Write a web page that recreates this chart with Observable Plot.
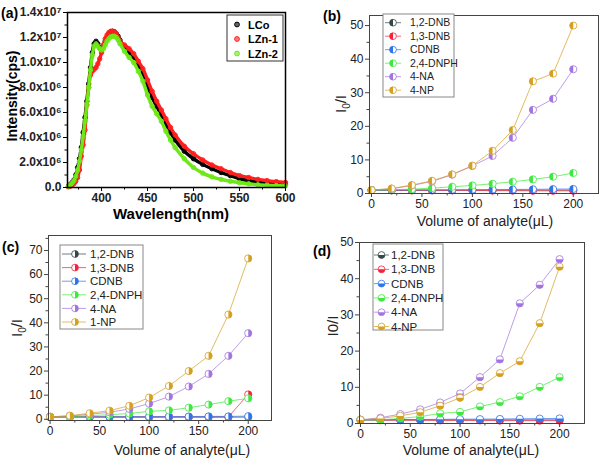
<!DOCTYPE html>
<html><head><meta charset="utf-8">
<script src="https://cdn.jsdelivr.net/npm/d3@7"></script>
<script src="https://cdn.jsdelivr.net/npm/@observablehq/plot@0.6"></script>
<style>
body{margin:0;background:#fff;}
#root{position:relative;width:600px;height:462px;overflow:hidden;font-family:"Liberation Sans",Arial,sans-serif;background:#fff;}
#root svg{position:absolute;overflow:visible;}
</style></head><body><div id="root"></div>
<script>
// ---------- Panel (a): emission spectra (intensity in units of 10^6 cps) ----------
const wavelength = [364,366,368,370,372,374,376,378,380,382,384,386,388,390,392,394,396,398,400,402,404,406,408,410,412,414,416,418,420,425,430,435,440,445,450,455,460,465,470,475,480,490,500,510,520,530,540,550,560,570,580,590,600];
const LCo  = [0.1,0.25,0.4,0.6,1.0,1.6,2.3,3.2,4.4,5.6,6.9,8.3,9.6,10.8,11.5,11.7,11.5,11.2,11.1,11.3,11.7,12.0,12.3,12.45,12.5,12.45,12.3,12.1,11.8,11.2,10.8,10.4,9.7,9.1,8.1,7.2,6.5,5.8,5.1,4.4,3.8,2.9,2.3,1.85,1.5,1.2,0.95,0.7,0.55,0.45,0.35,0.3,0.27];
const LZn1 = [0.05,0.1,0.2,0.3,0.5,0.8,1.4,2.5,3.4,4.6,6.6,8.0,9.0,9.3,9.45,9.6,9.9,10.3,10.8,11.4,11.9,12.2,12.4,12.5,12.5,12.45,12.3,12.0,11.7,11.4,11.1,10.7,10.1,9.5,8.6,7.7,6.9,6.2,5.5,4.8,4.2,3.3,2.7,2.2,1.8,1.5,1.2,0.95,0.8,0.65,0.55,0.47,0.4];
const LZn2 = [0.1,0.2,0.35,0.55,0.9,1.4,2.1,3.0,4.1,5.3,6.6,8.0,9.4,10.6,11.3,11.5,11.3,11.1,11.0,11.1,11.4,11.7,11.9,12.05,12.1,12.1,12.0,11.8,11.5,10.9,10.4,10.0,9.3,8.5,7.4,6.5,5.9,5.3,4.5,3.8,3.2,2.3,1.6,1.15,0.85,0.65,0.5,0.38,0.3,0.22,0.18,0.15,0.13];
const specNames  = ["LCo","LZn-1","LZn-2"];
const specColors = ["#000000","#ff1f1f","#6ee816"];
const aXTicks = [400,450,500,550,600], aXMinor = [375,425,475,525,575];
const aYTicks = [0,2,4,6,8,10,12,14], aYMinor = [1,3,5,7,9,11,13];

// ---------- Panels (b)-(d): I0/I versus volume of analyte ----------
const volume = [0,20,40,60,80,100,120,140,160,180,200];
const namesB = ["1,2-DNB","1,3-DNB","CDNB","2,4-DNPH","4-NA","4-NP"];
const namesC = ["1,2-DNB","1,3-DNB","CDNB","2,4-DNPH","4-NA","1-NP"];
const namesD = ["1,2-DNB","1,3-DNB","CDNB","2,4-DNPH","4-NA","4-NP"];
const seriesColors = ["#34484a","#f5223c","#2f74e8","#3ee83e","#a374e0","#d4a020"];

const b_DNB12 = [1.0,1.0,1.0,1.0,1.0,1.0,1.0,1.0,1.0,1.0,1.0];
const b_DNB13 = [1.0,0.9,0.9,0.9,0.9,0.9,0.85,0.85,0.8,0.8,0.8];
const b_CDNB  = [1.0,1.0,1.05,1.1,1.1,1.15,1.2,1.2,1.25,1.3,1.35];
const b_DNPH  = [1.0,1.1,1.3,1.6,2.0,2.4,2.9,3.5,4.2,5.0,6.1];
const b_NA    = [1.0,1.4,2.4,3.6,5.6,8.2,11.2,16.6,24.9,28.2,37.0];
const b_NP    = [1.0,1.5,2.5,3.8,5.7,8.3,12.7,18.9,33.4,35.7,50.0];

const c_DNB12 = [1.0,0.95,0.95,0.9,0.9,0.9,0.9,0.9,0.9,0.9,0.9];
const c_DNB13 = [1.0,1.0,1.0,1.0,1.0,1.0,1.0,1.0,1.0,1.0,10.3];
const c_CDNB  = [1.0,1.0,1.0,1.05,1.05,1.1,1.1,1.15,1.2,1.2,1.3];
const c_DNPH  = [1.0,1.2,1.5,1.9,2.4,3.3,3.7,4.8,6.1,7.5,8.7];
const c_NA    = [1.0,1.4,2.1,2.9,4.3,6.5,9.4,13.6,18.8,26.3,35.7];
const c_NP    = [1.0,1.5,2.5,3.6,5.6,9.0,13.8,20.0,26.3,43.4,66.7];

const d_DNB12 = [1.0,1.0,1.0,1.0,1.0,1.0,1.0,1.0,1.0,1.0,1.0];
const d_DNB13 = [1.0,0.9,0.9,0.9,0.85,0.85,0.85,0.8,0.8,0.8,0.8];
const d_CDNB  = [1.0,1.05,1.1,1.1,1.15,1.2,1.2,1.25,1.3,1.35,1.4];
const d_DNPH  = [1.0,1.0,1.4,1.9,2.8,3.2,4.7,5.9,7.5,10.1,12.8];
const d_NA    = [1.0,1.6,2.6,3.9,5.8,8.3,12.8,17.7,33.2,38.3,45.4];
const d_NP    = [1.0,1.4,2.1,3.1,4.9,7.1,10.1,13.9,17.2,27.7,43.3];

const volTicks = [0,50,100,150,200], volMinor = [25,75,125,175];
const bYTicks = [0,10,20,30,40,50], bYMinor = [5,15,25,35,45];
const cYTicks = [0,10,20,30,40,50,60,70], cYMinor = [5,15,25,35,45,55,65,75];
const dYTicks = [0,10,20,30,40,50], dYMinor = [5,15,25,35,45];

// ---------- half-filled symbols ----------
const rad = s => Math.sqrt(s / Math.PI);
const halfLeft   = {draw(c, s){ const r = rad(s); c.moveTo(0,-r); c.arc(0,0,r,-Math.PI/2,Math.PI/2,true); c.closePath(); }};
const halfRight  = {draw(c, s){ const r = rad(s); c.moveTo(0,-r); c.arc(0,0,r,-Math.PI/2,Math.PI/2,false); c.closePath(); }};
const halfBottom = {draw(c, s){ const r = rad(s); c.moveTo(r,0); c.arc(0,0,r,0,Math.PI,false); c.closePath(); }};

const FONT = '"Liberation Sans", Arial, sans-serif';
const root = document.getElementById("root");

function sup(n){ return n === 7 ? "\u2077" : "\u2076"; }
const fmtA = v => v === 0 ? "0.0" : (v >= 10 ? (v/10).toFixed(1) + "x10" + sup(7) : v.toFixed(1) + "x10" + sup(6));

function panel(cfg){
  const svg = Plot.plot({
    width: 300, height: 231,
    marginLeft: cfg.ml, marginRight: cfg.mr, marginTop: cfg.mt, marginBottom: cfg.mb,
    x: {domain: cfg.xd},
    y: {domain: cfg.yd},
    style: {fontFamily: FONT, fontSize: cfg.fs, fontWeight: cfg.fw, color: "#222", background: "transparent"},
    marks: [
      ...cfg.marks,
      Plot.axisX({ticks: cfg.xt, tickSize: 4, tickPadding: 2, label: null, stroke: cfg.axc}),
      Plot.axisX({ticks: cfg.xm, tickSize: 2.5, tickFormat: () => "", label: null, stroke: cfg.axc}),
      Plot.axisY({ticks: cfg.yt, tickSize: 4, tickPadding: 2, label: null, tickFormat: cfg.yf, stroke: cfg.axc}),
      Plot.axisY({ticks: cfg.ym, tickSize: 2.5, tickFormat: () => "", label: null, stroke: cfg.axc}),
      Plot.frame({stroke: cfg.axc, strokeWidth: cfg.fwid})
    ]
  });
  svg.style.left = cfg.left + "px";
  svg.style.top = cfg.top + "px";
  root.appendChild(svg);
}

// panel (a)
const specSeries = [LCo, LZn1, LZn2];
const marksA = [];
specSeries.forEach((arr, i) => {
  const rows = wavelength.map((w, k) => ({w, v: arr[k]}));
  marksA.push(Plot.line(rows, {x: "w", y: "v", stroke: specColors[i], strokeWidth: 3.4, curve: "catmull-rom"}));
  marksA.push(Plot.dot(rows, {x: "w", y: "v", r: 2.2, stroke: specColors[i], strokeWidth: 1, fill: specColors[i], fillOpacity: 0.4}));
});
panel({left: 0, top: 0, ml: 67, mr: 15, mt: 12, mb: 44, xd: [363, 600], yd: [0, 14],
  xt: aXTicks, xm: aXMinor, yt: aYTicks, ym: aYMinor, yf: fmtA, fs: "12px", fw: "bold",
  axc: "#000", fwid: 1.5, marks: marksA});

function seriesMarks(list, sym){
  const m = [];
  list.forEach((arr, i) => {
    const rows = volume.map((x, k) => ({x, y: arr[k]}));
    m.push(Plot.line(rows, {x: "x", y: "y", stroke: seriesColors[i], strokeOpacity: 0.7, strokeWidth: 1}));
    m.push(Plot.dot(rows, {x: "x", y: "y", r: 3.6, symbol: "circle", fill: "white", stroke: seriesColors[i], strokeWidth: 0.8}));
    m.push(Plot.dot(rows, {x: "x", y: "y", r: 3.6, symbol: sym, fill: seriesColors[i]}));
  });
  return m;
}

panel({left: 300, top: 0, ml: 69, mr: 2, mt: 15, mb: 38, xd: [-2, 225], yd: [0, 53],
  xt: volTicks, xm: volMinor, yt: bYTicks, ym: bYMinor, fs: "12px", fw: "normal",
  axc: "#444", fwid: 1, marks: seriesMarks([b_DNB12,b_DNB13,b_CDNB,b_DNPH,b_NA,b_NP], halfLeft)});

panel({left: 0, top: 231, ml: 48, mr: 29, mt: 4, mb: 42, xd: [-1.6, 223.5], yd: [-0.5, 76.2],
  xt: volTicks, xm: volMinor, yt: cYTicks, ym: cYMinor, fs: "12px", fw: "normal",
  axc: "#444", fwid: 1, marks: seriesMarks([c_DNB12,c_DNB13,c_CDNB,c_DNPH,c_NA,c_NP], halfRight)});

panel({left: 300, top: 231, ml: 59, mr: 16, mt: 11, mb: 39, xd: [-1, 225], yd: [0, 50],
  xt: volTicks, xm: volMinor, yt: dYTicks, ym: dYMinor, fs: "12px", fw: "normal",
  axc: "#444", fwid: 1, marks: seriesMarks([d_DNB12,d_DNB13,d_CDNB,d_DNPH,d_NA,d_NP], halfBottom)});

// ---------- overlay: panel labels, axis titles, legends ----------
const ov = d3.select(root).append("svg").attr("width", 600).attr("height", 462)
  .style("left", "0px").style("top", "0px").style("font-family", FONT);

const labels = [["(a)", 1, 18], ["(b)", 323, 21], ["(c)", 2, 252], ["(d)", 313, 256]];
labels.forEach(([t, x, y]) => ov.append("text").attr("x", x).attr("y", y).attr("font-size", 14).attr("font-weight", "bold").text(t));

// axis titles
ov.append("text").attr("x", 171).attr("y", 219).attr("text-anchor", "middle").attr("font-size", 15).attr("font-weight", "bold").text("Wavelength(nm)");
ov.append("text").attr("transform", "translate(17,96) rotate(-90)").attr("text-anchor", "middle").attr("font-size", 14).attr("font-weight", "bold").text("Intensity(cps)");

const xTitles = [[485, 226], [182, 455], [471, 455]];
xTitles.forEach(([x, y]) => ov.append("text").attr("x", x).attr("y", y).attr("text-anchor", "middle").attr("font-size", 14).attr("fill", "#222").text("Volume of analyte(\u03bcL)"));

function i0Label(x, y, sub){
  const t = ov.append("text").attr("transform", `translate(${x},${y}) rotate(-90)`).attr("text-anchor", "middle").attr("font-size", 15).attr("fill", "#222");
  if (sub){
    t.append("tspan").text("I");
    t.append("tspan").attr("dy", 4).attr("font-size", 10).text("0");
    t.append("tspan").attr("dy", -4).text("/I");
  } else {
    t.text("I0/I");
  }
}
i0Label(346, 104, true);
i0Label(22, 328, true);
i0Label(338, 326, false);

// legend (a)
ov.append("rect").attr("x", 227).attr("y", 15).attr("width", 56).attr("height", 46).attr("fill", "white").attr("stroke", "#333").attr("stroke-width", 1);
specNames.forEach((n, i) => {
  const y = 24.5 + i * 14.5;
  ov.append("circle").attr("cx", 237).attr("cy", y).attr("r", 2.4).attr("fill", specColors[i]).attr("fill-opacity", 0.6).attr("stroke", specColors[i]);
  ov.append("text").attr("x", 248).attr("y", y + 4).attr("font-size", 11).attr("font-weight", "bold").text(n);
});

function legend(names, box, y0, dy, lx1, lx2, mx, tx, symType, fs){
  ov.append("rect").attr("x", box[0]).attr("y", box[1]).attr("width", box[2]).attr("height", box[3]).attr("fill", "white").attr("stroke", "#888").attr("stroke-width", 1);
  const sym = d3.symbol().type(symType).size(Math.PI * 3.4 * 3.4);
  names.forEach((n, i) => {
    const y = y0 + i * dy;
    ov.append("line").attr("x1", lx1).attr("x2", lx2).attr("y1", y).attr("y2", y).attr("stroke", seriesColors[i]).attr("stroke-opacity", 0.7);
    ov.append("circle").attr("cx", mx).attr("cy", y).attr("r", 3.4).attr("fill", "white").attr("stroke", seriesColors[i]).attr("stroke-width", 0.8);
    ov.append("path").attr("transform", `translate(${mx},${y})`).attr("d", sym()).attr("fill", seriesColors[i]);
    ov.append("text").attr("x", tx).attr("y", y + fs * 0.36).attr("font-size", fs).attr("fill", "#222").text(n);
  });
}
legend(namesB, [383, 14, 71, 83], 22.7, 13.5, 385, 401, 393, 410, halfLeft, 10.5);
legend(namesC, [60, 245, 83, 84], 254, 13.6, 62, 86, 75, 90, halfRight, 11.5);
legend(namesD, [373, 244, 70, 86], 255, 14.3, 374, 389, 381.5, 391, halfBottom, 11.5);
</script></body></html>
